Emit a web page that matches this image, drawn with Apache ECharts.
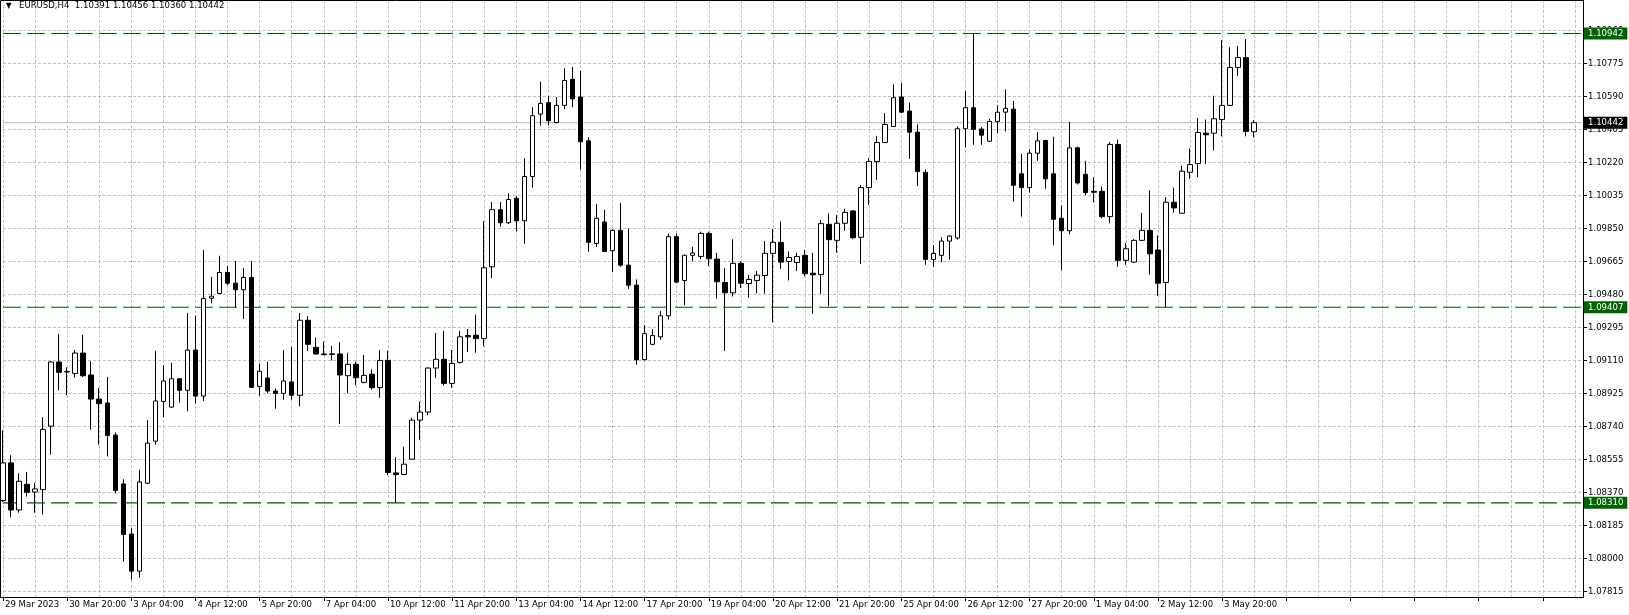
<!DOCTYPE html>
<html><head><meta charset="utf-8">
<script src="https://cdn.jsdelivr.net/npm/echarts@6/dist/echarts.min.js"></script>
<style>html,body{margin:0;padding:0;background:#fff;overflow:hidden}#c{width:1629px;height:615px}</style>
</head><body><div id="c"></div><script>
const symbol = 'EURUSD,H4';
const opens = [1.08323,1.08534,1.08270,1.08414,1.08371,1.08384,1.08740,1.09100,1.09044,1.09036,1.09150,1.09027,1.08892,1.08870,1.08690,1.08416,1.08135,1.07927,1.08420,1.08656,1.08879,1.08847,1.09006,1.08941,1.09167,1.08909,1.09458,1.09484,1.09602,1.09542,1.09505,1.09574,1.08963,1.09010,1.08937,1.08924,1.08988,1.08913,1.09334,1.09182,1.09145,1.09145,1.09145,1.09023,1.09087,1.08986,1.09031,1.08956,1.09109,1.08478,1.08469,1.08555,1.08774,1.08819,1.09066,1.09115,1.08980,1.09098,1.09248,1.09250,1.09231,1.09634,1.09954,1.09881,1.10018,1.09892,1.10140,1.10490,1.10554,1.10443,1.10539,1.10685,1.10586,1.10340,1.09765,1.09885,1.09724,1.09838,1.09643,1.09531,1.09113,1.09199,1.09241,1.09359,1.09803,1.09557,1.09698,1.09692,1.09821,1.09677,1.09546,1.09488,1.09653,1.09540,1.09557,1.09585,1.09709,1.09771,1.09664,1.09658,1.09698,1.09598,1.09591,1.09872,1.09782,1.09878,1.09947,1.09799,1.10078,1.10224,1.10331,1.10421,1.10586,1.10507,1.10389,1.10164,1.09675,1.09698,1.09778,1.09795,1.10408,1.10526,1.10406,1.10338,1.10449,1.10501,1.10518,1.10155,1.10078,1.10271,1.10342,1.10155,1.09906,1.09836,1.10301,1.10153,1.10057,1.10057,1.09915,1.10320,1.09670,1.09660,1.09782,1.09838,1.09728,1.09546,1.09996,1.09934,1.10164,1.10213,1.10383,1.10383,1.10460,1.10539,1.10752,1.10807,1.10391];
const highs = [1.08716,1.08577,1.08476,1.08484,1.08422,1.08791,1.09104,1.09257,1.09070,1.09167,1.09252,1.09104,1.08954,1.09016,1.08705,1.08442,1.08169,1.08495,1.08774,1.09162,1.09081,1.09096,1.09010,1.09375,1.09360,1.09728,1.09578,1.09696,1.09638,1.09666,1.09628,1.09666,1.09091,1.09102,1.08952,1.09167,1.09184,1.09375,1.09357,1.09237,1.09214,1.09190,1.09212,1.09152,1.09102,1.09139,1.09059,1.09167,1.09162,1.08566,1.08624,1.08787,1.08877,1.09070,1.09263,1.09274,1.09167,1.09274,1.09285,1.09366,1.09889,1.09997,1.09997,1.10046,1.10031,1.10243,1.10528,1.10672,1.10593,1.10586,1.10747,1.10754,1.10732,1.10361,1.09986,1.09954,1.09846,1.09992,1.09848,1.09563,1.09306,1.09285,1.09385,1.09821,1.09821,1.09703,1.09746,1.09831,1.09831,1.09713,1.09628,1.09788,1.09664,1.09589,1.09610,1.09778,1.09846,1.09889,1.09720,1.09713,1.09728,1.09713,1.09896,1.09934,1.09924,1.09960,1.09951,1.10093,1.10243,1.10368,1.10496,1.10657,1.10664,1.10556,1.10432,1.10181,1.09756,1.09799,1.09810,1.10421,1.10618,1.10942,1.10417,1.10464,1.10539,1.10629,1.10565,1.10267,1.10293,1.10389,1.10346,1.10363,1.09977,1.10447,1.10308,1.10228,1.10136,1.10084,1.10333,1.10348,1.09767,1.09789,1.09937,1.10063,1.09810,1.10024,1.10078,1.10200,1.10297,1.10468,1.10460,1.10593,1.10904,1.10865,1.10872,1.10911,1.10456];
const lows = [1.08315,1.08229,1.08255,1.08345,1.08255,1.08244,1.08581,1.08941,1.08913,1.09012,1.09016,1.08720,1.08637,1.08570,1.08362,1.07980,1.07879,1.07890,1.08416,1.08637,1.08791,1.08843,1.08873,1.08823,1.08866,1.08881,1.09428,1.09484,1.09531,1.09407,1.09342,1.08954,1.08909,1.08924,1.08838,1.08888,1.08888,1.08851,1.09162,1.09139,1.09139,1.09109,1.08752,1.08924,1.08969,1.08980,1.08945,1.08899,1.08465,1.08310,1.08465,1.08551,1.08662,1.08802,1.09010,1.08967,1.08956,1.09091,1.09156,1.09152,1.09188,1.09570,1.09859,1.09874,1.09833,1.09763,1.10078,1.10425,1.10428,1.10438,1.10518,1.10528,1.10179,1.09718,1.09746,1.09716,1.09606,1.09634,1.09510,1.09085,1.09109,1.09194,1.09224,1.09338,1.09542,1.09419,1.09664,1.09677,1.09638,1.09456,1.09162,1.09467,1.09514,1.09460,1.09484,1.09484,1.09323,1.09623,1.09557,1.09610,1.09580,1.09370,1.09482,1.09413,1.09713,1.09836,1.09788,1.09649,1.09981,1.10121,1.10327,1.10417,1.10496,1.10239,1.10087,1.09645,1.09634,1.09660,1.09675,1.09786,1.10303,1.10318,1.10318,1.10335,1.10383,1.10393,1.09999,1.09915,1.10050,1.10228,1.10072,1.09756,1.09615,1.09816,1.10095,1.10035,1.09996,1.09906,1.09878,1.09634,1.09645,1.09655,1.09778,1.09589,1.09471,1.09407,1.09937,1.09934,1.10127,1.10136,1.10211,1.10286,1.10365,1.10535,1.10704,1.10365,1.10360];
const closes = [1.08534,1.08270,1.08431,1.08369,1.08388,1.08722,1.09100,1.09042,1.09046,1.09150,1.09023,1.08892,1.08866,1.08688,1.08379,1.08133,1.07927,1.08427,1.08645,1.08881,1.08993,1.09006,1.08941,1.09167,1.08909,1.09456,1.09469,1.09602,1.09542,1.09505,1.09574,1.08958,1.09048,1.08937,1.08924,1.08993,1.08913,1.09334,1.09199,1.09145,1.09141,1.09143,1.09027,1.09087,1.09012,1.09025,1.08956,1.09109,1.08480,1.08469,1.08527,1.08774,1.08819,1.09066,1.09115,1.08980,1.09091,1.09241,1.09241,1.09231,1.09628,1.09954,1.09881,1.10011,1.09892,1.10140,1.10481,1.10550,1.10453,1.10539,1.10679,1.10576,1.10335,1.09771,1.09906,1.09720,1.09838,1.09643,1.09531,1.09113,1.09259,1.09248,1.09359,1.09803,1.09548,1.09698,1.09711,1.09821,1.09679,1.09550,1.09488,1.09653,1.09542,1.09563,1.09587,1.09709,1.09771,1.09660,1.09686,1.09692,1.09595,1.09589,1.09876,1.09786,1.09878,1.09939,1.09797,1.10078,1.10224,1.10331,1.10432,1.10582,1.10501,1.10389,1.10168,1.09675,1.09709,1.09778,1.09806,1.10408,1.10526,1.10404,1.10372,1.10449,1.10501,1.10522,1.10091,1.10078,1.10271,1.10340,1.10127,1.09900,1.09836,1.10301,1.10104,1.10050,1.10052,1.09915,1.10320,1.09670,1.09735,1.09782,1.09838,1.09707,1.09542,1.09996,1.09964,1.10170,1.10207,1.10387,1.10374,1.10464,1.10539,1.10752,1.10807,1.10393,1.10442];
const timeLabels = ['29 Mar 2023','30 Mar 20:00','3 Apr 04:00','4 Apr 12:00','5 Apr 20:00','7 Apr 04:00','10 Apr 12:00','11 Apr 20:00','13 Apr 04:00','14 Apr 12:00','17 Apr 20:00','19 Apr 04:00','20 Apr 12:00','21 Apr 20:00','25 Apr 04:00','26 Apr 12:00','27 Apr 20:00','1 May 04:00','2 May 12:00','3 May 20:00'];
const priceTicks = [1.07815,1.08000,1.08185,1.08370,1.08555,1.08740,1.08925,1.09110,1.09295,1.09480,1.09665,1.09850,1.10035,1.10220,1.10405,1.10590,1.10775,1.10960];
const levels = [1.10942, 1.09407, 1.08310];
const lastPrice = 1.10442;

const SLOTS = 198;          // bar slots across the chart width (incl. empty right shift)
const BARS_PER_LABEL = 8;
const FONT = "'DejaVu Sans Condensed','Liberation Sans',sans-serif";
const FS = 9.5;

const slots = [];
for (let i = 0; i < SLOTS; i++) slots.push(String(i));
const candles = opens.map((o, i) => [o, closes[i], lows[i], highs[i]]);
const n = opens.length - 1;
const header = symbol + '  ' + [opens[n], highs[n], lows[n], closes[n]].map(v => v.toFixed(5)).join(' ');

function levelSeries(value, lineColor, dash, boxColor, z) {
  return {
    type: 'line', data: slots.map(() => value), symbol: 'none', silent: true, z: z,
    lineStyle: {color: lineColor, width: 1.2, type: dash},
    endLabel: {show: true, distance: 1, formatter: () => value.toFixed(5),
      backgroundColor: boxColor, color: '#fff', padding: [1, 4, 0, 4],
      fontFamily: FONT, fontSize: FS, lineHeight: 11}
  };
}

const chart = echarts.init(document.getElementById('c'), null, {renderer: 'canvas'});
const gridDash = {color: '#c0c0c0', width: 1, type: [3, 2]};
chart.setOption({
  animation: false,
  backgroundColor: '#ffffff',
  grid: {left: 3, right: 46, top: 0, height: 597, outerBoundsMode: 'none', containLabel: false},
  xAxis: {
    type: 'category', data: slots, boundaryGap: false,
    axisLine: {show: true, lineStyle: {color: '#000', width: 1}},
    axisTick: {show: true, interval: BARS_PER_LABEL - 1, length: 4, lineStyle: {color: '#000'}},
    axisLabel: {
      show: true, interval: BARS_PER_LABEL - 1, align: 'left', margin: 3, padding: [0, 0, 0, 2],
      color: '#000', fontFamily: FONT, fontSize: FS,
      formatter: (v, idx) => (idx % BARS_PER_LABEL === 0 && timeLabels[idx / BARS_PER_LABEL]) || ''
    },
    splitLine: {show: true, interval: BARS_PER_LABEL / 2 - 1, lineStyle: gridDash}
  },
  yAxis: {
    type: 'value', position: 'right', min: 1.07782, max: 1.11130, scale: true,
    axisLine: {show: true, lineStyle: {color: '#000', width: 1}},
    axisTick: {show: true, length: 4, customValues: priceTicks, lineStyle: {color: '#000'}},
    axisLabel: {show: true, customValues: priceTicks, margin: 5, color: '#000', fontFamily: FONT, fontSize: FS,
      formatter: v => v.toFixed(5)},
    splitLine: {show: true, lineStyle: gridDash}
  },
  graphic: [
    {type: 'rect', z: 100, silent: true, shape: {x: 0.5, y: 0.5, width: 1583, height: 597},
     style: {fill: 'none', stroke: '#000', lineWidth: 1}},
    {type: 'text', z: 101, left: 6, top: 2, silent: true,
     style: {text: '▼', fill: '#000', font: '8px ' + FONT}},
    {type: 'text', z: 101, left: 19, top: 1, silent: true,
     style: {text: header, fill: '#000', font: FS + 'px ' + FONT}}
  ],
  series: [
    levelSeries(lastPrice, '#c0c0c0', 'solid', '#000000', 1),
    ...levels.map(v => levelSeries(v, '#005a00', [18, 6], '#006400', 1)),
    {
      type: 'candlestick', data: candles, barWidth: 5, clip: false, z: 3,
      itemStyle: {color: '#ffffff', color0: '#000000', borderColor: '#000000', borderColor0: '#000000', borderWidth: 1}
    }
  ]
});
</script></body></html>
